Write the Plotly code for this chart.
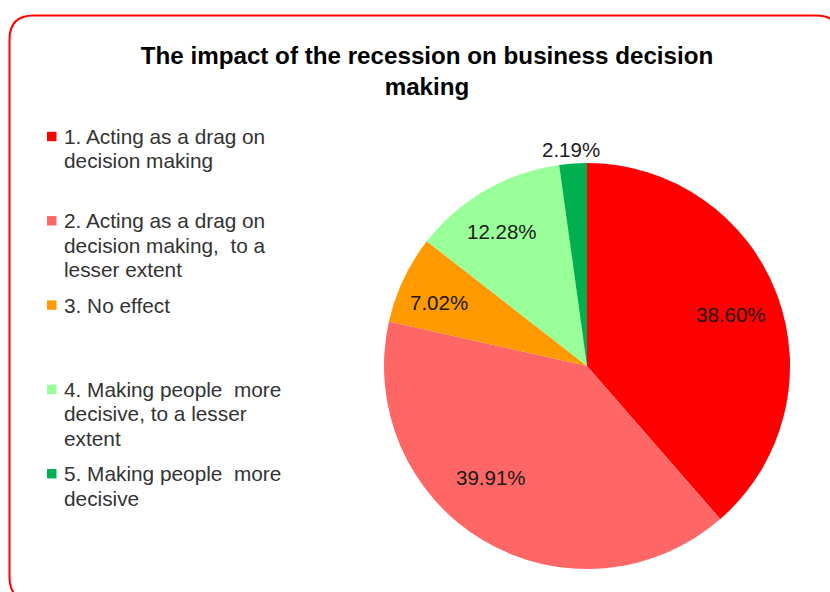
import math
import plotly.graph_objects as go

# Survey answers and their shares (%)
categories = [
    "1. Acting as a drag on<br>decision making",
    "2. Acting as a drag on<br>decision making,  to a<br>lesser extent",
    "3. No effect",
    "4. Making people  more<br>decisive, to a lesser<br>extent",
    "5. Making people  more<br>decisive",
]
shares = [38.60, 39.91, 7.02, 12.28, 2.19]
colors = ["#FF0000", "#FF6666", "#FF9900", "#99FF99", "#00B050"]

title_text = "The impact of the recession on business decision<br>making"

W, H = 830, 592
FONT = "Liberation Sans, Arial, sans-serif"

# pie placement (pixels)
CX, CY, R = 587, 366, 203

# label placement: radial fraction of the radius and small pixel nudges
label_frac = [0.75, 0.75, 0.80, 0.79, 1.07]
label_nudge = [(1, 2), (-18, -19), (-1, 6), (-5, 4), (-1, 0)]


def px(x):
    return x / W


def py(y):
    return 1 - y / H


fig = go.Figure()
fig.add_trace(go.Pie(
    labels=[c.replace("<br>", " ") for c in categories],
    values=shares,
    marker=dict(colors=colors, line=dict(width=0)),
    sort=False,
    direction="clockwise",
    rotation=0,
    textinfo="none",
    hoverinfo="label+percent",
    showlegend=False,
    domain=dict(x=[px(CX - R), px(CX + R)], y=[py(CY + R), py(CY - R)]),
))

annotations = []

# percentage labels placed along each slice's mid-angle
total = sum(shares)
cum = 0.0
for v, frac, (dx, dy) in zip(shares, label_frac, label_nudge):
    mid = (cum + v / 2) / total
    cum += v
    theta = math.radians(90 - 360 * mid)
    x = CX + R * frac * math.cos(theta) + dx
    y = CY - R * frac * math.sin(theta) + dy
    annotations.append(dict(
        x=px(x), y=py(y), xref="paper", yref="paper",
        text=f"{v:.2f}%", showarrow=False,
        xanchor="center", yanchor="middle",
        font=dict(family=FONT, size=20.5, color="#1a1a1a"),
    ))

# legend: colour square plus wrapped label per entry
LEG_X_BOX, LEG_X_TEXT = 47, 62
LEG_TOP, LEG_STEP, LINE_STEP = 136.5, 84.3, 24.3
shapes = []
for i, (cat, col) in enumerate(zip(categories, colors)):
    y0 = LEG_TOP + i * LEG_STEP
    shapes.append(dict(
        type="rect", xref="paper", yref="paper",
        x0=px(LEG_X_BOX), x1=px(LEG_X_BOX + 9.5),
        y0=py(y0 - 4.7), y1=py(y0 + 4.7),
        fillcolor=col, line=dict(width=0),
    ))
    for j, line in enumerate(cat.split("<br>")):
        annotations.append(dict(
            x=px(LEG_X_TEXT), y=py(y0 + j * LINE_STEP),
            xref="paper", yref="paper",
            text=line.replace("  ", "&nbsp; "), showarrow=False,
            xanchor="left", yanchor="middle",
            font=dict(family=FONT, size=20.8, color="#333333"),
        ))

# rounded chart border
bx0, by0, bx1, by1, rc = 9.5, 15.5, 840, 601, 24
path = (
    f"M {px(bx0 + rc)} {py(by0)} L {px(bx1 - rc)} {py(by0)} "
    f"Q {px(bx1)} {py(by0)} {px(bx1)} {py(by0 + rc)} "
    f"L {px(bx1)} {py(by1 - rc)} Q {px(bx1)} {py(by1)} {px(bx1 - rc)} {py(by1)} "
    f"L {px(bx0 + rc)} {py(by1)} Q {px(bx0)} {py(by1)} {px(bx0)} {py(by1 - rc)} "
    f"L {px(bx0)} {py(by0 + rc)} Q {px(bx0)} {py(by0)} {px(bx0 + rc)} {py(by0)} Z"
)
shapes.append(dict(type="path", xref="paper", yref="paper", path=path,
                   line=dict(color="#FF0000", width=2), layer="above"))

fig.update_layout(
    width=W, height=H,
    margin=dict(l=0, r=0, t=0, b=0),
    paper_bgcolor="white",
    plot_bgcolor="white",
    title=dict(
        text=title_text,
        x=px(427), xanchor="center",
        y=py(64), yanchor="middle",
        font=dict(family=FONT, size=24.2, color="#000000", weight="bold"),
    ),
    annotations=annotations,
    shapes=shapes,
    showlegend=False,
)

fig.write_html("out.html")
